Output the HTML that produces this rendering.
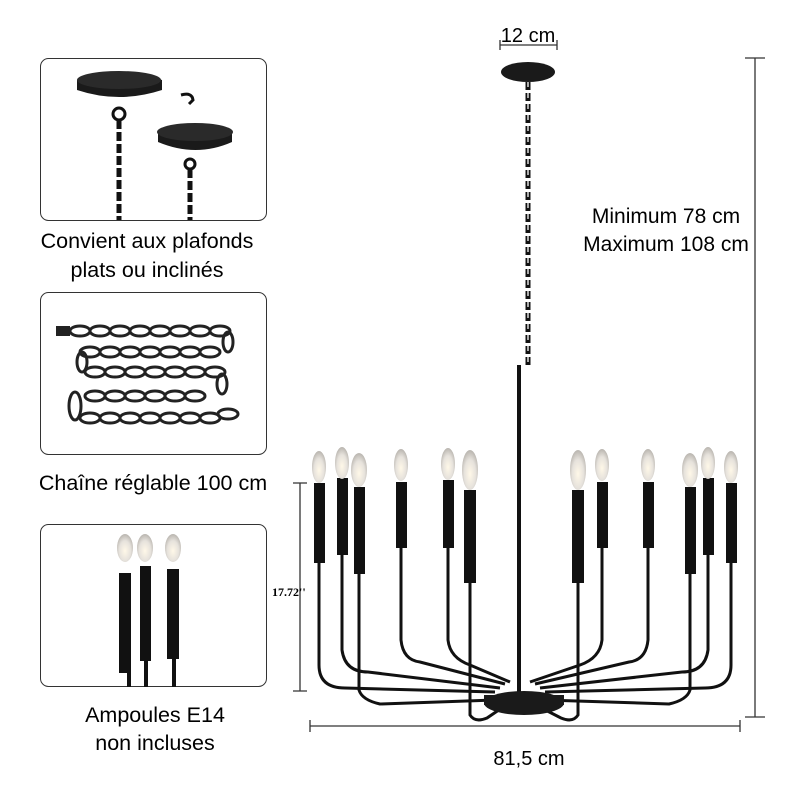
<!DOCTYPE html>
<html><head><meta charset="utf-8"><style>
body{margin:0;background:#fff;}
svg{display:block}
text{font-family:"Liberation Sans",sans-serif;fill:#000}
</style></head><body>
<svg width="800" height="800" viewBox="0 0 800 800">
<defs>
<radialGradient id="bulb" cx="50%" cy="60%" r="60%"><stop offset="0" stop-color="#fff8e8"/><stop offset="0.6" stop-color="#e6e2dc"/><stop offset="1" stop-color="#b8b4ae"/></radialGradient>
<g id="lk"><ellipse cx="0" cy="0" rx="10" ry="5" fill="none" stroke="#222" stroke-width="3"/></g>
</defs>
<!-- left panels -->
<rect x="40.5" y="58.5" width="226" height="162" rx="8" fill="#fff" stroke="#333"/>
<rect x="40.5" y="292.5" width="226" height="162" rx="8" fill="#fff" stroke="#333"/>
<rect x="40.5" y="524.5" width="226" height="162" rx="8" fill="#fff" stroke="#333"/>
<!-- panel1 -->
<path d="M77 80 Q119 66 162 80 L162 90 Q119 104 77 90 Z" fill="#1a1a1a"/>
<ellipse cx="119" cy="80" rx="42" ry="9" fill="#2a2a2a"/>
<circle cx="119" cy="114" r="6" fill="none" stroke="#111" stroke-width="3"/>
<path d="M119 120 V220" stroke="#111" stroke-width="5" stroke-dasharray="9 3"/>
<path d="M158 130 Q196 116 232 132 L232 142 Q196 158 158 142 Z" fill="#1a1a1a"/>
<ellipse cx="195" cy="132" rx="38" ry="9" fill="#2a2a2a"/>
<circle cx="190" cy="164" r="5" fill="none" stroke="#111" stroke-width="3"/>
<path d="M190 169 V220" stroke="#111" stroke-width="5" stroke-dasharray="9 3"/>
<path d="M181 95 Q192 92 193 100 L189 104" fill="none" stroke="#111" stroke-width="3"/>
<!-- panel2 chain -->
<rect x="56" y="326" width="14" height="10" fill="#222"/>
<g>
<use href="#lk" x="80" y="331"/><use href="#lk" x="100" y="331"/><use href="#lk" x="120" y="331"/><use href="#lk" x="140" y="331"/><use href="#lk" x="160" y="331"/><use href="#lk" x="180" y="331"/><use href="#lk" x="200" y="331"/><use href="#lk" x="220" y="331"/>
<use href="#lk" x="90" y="352"/><use href="#lk" x="110" y="352"/><use href="#lk" x="130" y="352"/><use href="#lk" x="150" y="352"/><use href="#lk" x="170" y="352"/><use href="#lk" x="190" y="352"/><use href="#lk" x="210" y="352"/>
<use href="#lk" x="95" y="372"/><use href="#lk" x="115" y="372"/><use href="#lk" x="135" y="372"/><use href="#lk" x="155" y="372"/><use href="#lk" x="175" y="372"/><use href="#lk" x="195" y="372"/><use href="#lk" x="215" y="372"/>
<use href="#lk" x="95" y="396"/><use href="#lk" x="115" y="396"/><use href="#lk" x="135" y="396"/><use href="#lk" x="155" y="396"/><use href="#lk" x="175" y="396"/><use href="#lk" x="195" y="396"/>
<use href="#lk" x="90" y="418"/><use href="#lk" x="110" y="418"/><use href="#lk" x="130" y="418"/><use href="#lk" x="150" y="418"/><use href="#lk" x="170" y="418"/><use href="#lk" x="190" y="418"/><use href="#lk" x="210" y="418"/><use href="#lk" x="228" y="414"/>
</g>
<g fill="none" stroke="#222" stroke-width="3">
<ellipse cx="228" cy="342" rx="5" ry="10"/><ellipse cx="82" cy="362" rx="5" ry="10"/><ellipse cx="222" cy="384" rx="5" ry="10"/><ellipse cx="75" cy="406" rx="6" ry="14"/>
</g>
<!-- panel3 candles -->
<g>
<ellipse cx="125" cy="548" rx="8" ry="14" fill="url(#bulb)"/>
<ellipse cx="145" cy="548" rx="8" ry="14" fill="url(#bulb)"/>
<ellipse cx="173" cy="548" rx="8" ry="14" fill="url(#bulb)"/>
<rect x="119" y="573" width="12" height="100" fill="#111"/><rect x="127" y="673" width="4" height="14" fill="#111"/>
<rect x="140" y="566" width="11" height="95" fill="#111"/><rect x="144" y="661" width="4" height="26" fill="#111"/>
<rect x="167" y="569" width="12" height="90" fill="#111"/><rect x="172" y="659" width="4" height="28" fill="#111"/>
</g>
<text x="147" y="248" font-size="21.5" text-anchor="middle">Convient aux plafonds</text>
<text x="147" y="277" font-size="21.5" text-anchor="middle">plats ou inclinés</text>
<text x="153" y="490" font-size="21.5" text-anchor="middle">Chaîne réglable 100 cm</text>
<text x="155" y="722" font-size="21.5" text-anchor="middle">Ampoules E14</text>
<text x="155" y="750" font-size="21.5" text-anchor="middle">non incluses</text>
<!-- dimensions -->
<g stroke="#333" stroke-width="1.3" fill="none">
<path d="M500 45 H557 M500 40 V50 M557 40 V50"/>
<path d="M755 58 V717 M745 58 H765 M745 717 H765"/>
<path d="M310 726 H740 M310 720 V732 M740 720 V732"/>
<path d="M300 483 V691 M293 483 H307 M293 691 H307"/>
</g>
<text x="528" y="42" font-size="20" text-anchor="middle">12 cm</text>
<text x="666" y="223" font-size="21" text-anchor="middle">Minimum 78 cm</text>
<text x="666" y="251" font-size="21" text-anchor="middle">Maximum 108 cm</text>
<text x="529" y="765" font-size="20" text-anchor="middle">81,5 cm</text>
<text x="272" y="596" font-size="12" font-weight="bold" style="font-family:'Liberation Serif',serif">17.72''</text>
<!-- canopy & chain -->
<ellipse cx="528" cy="72" rx="27" ry="10" fill="#1a1a1a"/>
<path d="M528 82 V365" stroke="#111" stroke-width="5" stroke-dasharray="8 3"/>
<path d="M528 82 V365" stroke="#fff" stroke-width="1.3" stroke-dasharray="5 6"/>
<rect x="517" y="365" width="4" height="335" fill="#111"/>
<!-- arms -->
<g stroke="#111" stroke-width="3" fill="none">
<path d="M319 563 V665 Q319 688 345 688 L495 692"/>
<path d="M342 555 V650 Q345 672 368 672 L500 688"/>
<path d="M359 574 V690 Q362 700 380 704 L495 700"/>
<path d="M401 548 V640 Q403 660 420 662 L505 684"/>
<path d="M448 548 V640 Q450 658 470 665 L510 682"/>
<path d="M470 583 V715 Q475 723 487 718 L518 697"/>
<path d="M578 583 V715 Q573 723 561 718 L520 697"/>
<path d="M602 548 V640 Q600 658 580 665 L530 682"/>
<path d="M648 548 V640 Q646 660 629 662 L535 684"/>
<path d="M690 574 V690 Q687 700 669 704 L545 700"/>
<path d="M708 555 V650 Q705 672 682 672 L540 688"/>
<path d="M731 563 V665 Q731 688 705 688 L545 692"/>
</g>
<ellipse cx="524" cy="703" rx="40" ry="12" fill="#1a1a1a"/>
<rect x="484" y="695" width="80" height="10" fill="#1a1a1a"/>
<!-- candles -->
<g fill="#111">
<rect x="314" y="483" width="11" height="80"/><rect x="337" y="478" width="11" height="77"/><rect x="354" y="487" width="11" height="87"/>
<rect x="396" y="482" width="11" height="66"/><rect x="443" y="480" width="11" height="68"/><rect x="464" y="490" width="12" height="93"/>
<rect x="572" y="490" width="12" height="93"/><rect x="597" y="482" width="11" height="66"/><rect x="643" y="482" width="11" height="66"/>
<rect x="685" y="487" width="11" height="87"/><rect x="703" y="478" width="11" height="77"/><rect x="726" y="483" width="11" height="80"/>
</g>
<g fill="url(#bulb)">
<ellipse cx="319" cy="467" rx="7" ry="16"/><ellipse cx="342" cy="463" rx="7" ry="16"/><ellipse cx="359" cy="470" rx="8" ry="17"/>
<ellipse cx="401" cy="465" rx="7" ry="16"/><ellipse cx="448" cy="464" rx="7" ry="16"/><ellipse cx="470" cy="470" rx="8" ry="20"/>
<ellipse cx="578" cy="470" rx="8" ry="20"/><ellipse cx="602" cy="465" rx="7" ry="16"/><ellipse cx="648" cy="465" rx="7" ry="16"/>
<ellipse cx="690" cy="470" rx="8" ry="17"/><ellipse cx="708" cy="463" rx="7" ry="16"/><ellipse cx="731" cy="467" rx="7" ry="16"/>
</g>
</svg>
</body></html>
